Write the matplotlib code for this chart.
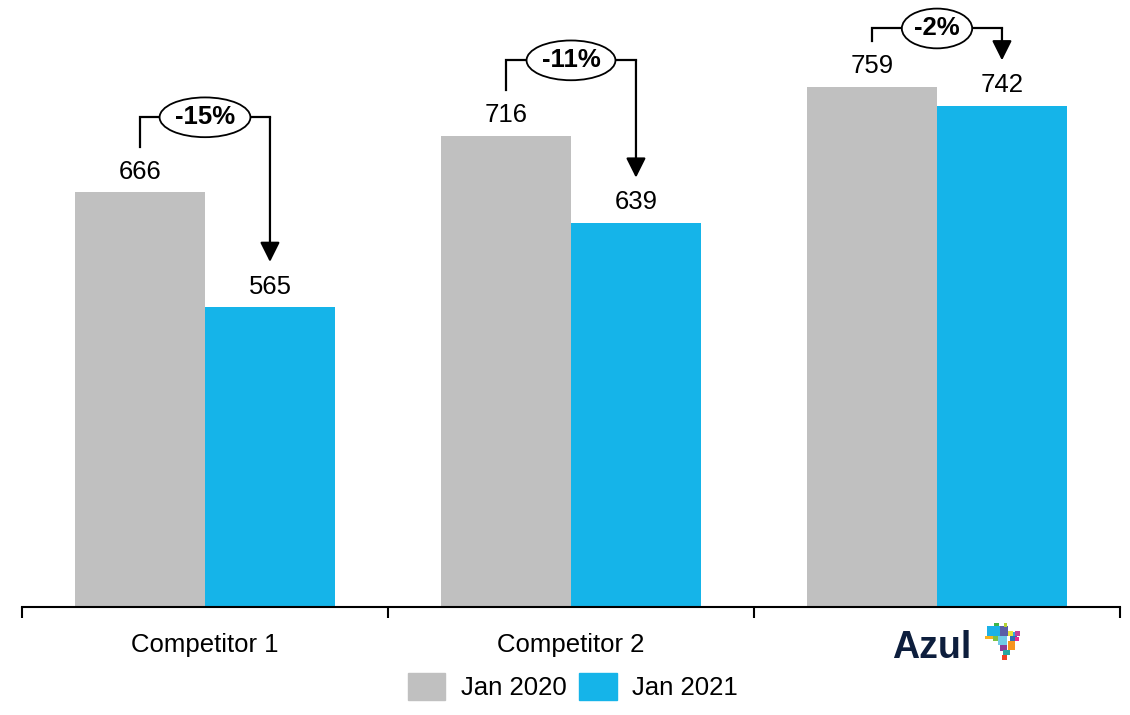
import matplotlib.pyplot as plt
from matplotlib.patches import Patch, Rectangle

plt.rcParams["font.family"] = ["Liberation Sans", "DejaVu Sans"]

categories = ["Competitor 1", "Competitor 2", "Azul"]
jan_2020 = [666, 716, 759]
jan_2021 = [565, 639, 742]
series_labels = ["Jan 2020", "Jan 2021"]

GREY = "#C0C0C0"
BLUE = "#15B4E9"
NAVY = "#0D1E3D"

fig = plt.figure(figsize=(11.3, 7.15), dpi=100)
ax = fig.add_axes([22 / 1130, 108 / 715, 1098 / 1130, 607 / 715])

w = 0.355
x = range(len(categories))
ax.bar([i - w / 2 for i in x], jan_2020, width=w, color=GREY, zorder=2)
ax.bar([i + w / 2 for i in x], jan_2021, width=w, color=BLUE, zorder=2)

ax.set_xlim(-0.5, len(categories) - 0.5)
ax.set_ylim(302, 835)

for i, (a, b) in enumerate(zip(jan_2020, jan_2021)):
    for xx, v in ((i - w / 2, a), (i + w / 2, b)):
        ax.annotate(f"{v}", (xx, v), xytext=(0, 10), textcoords="offset points",
                    ha="center", va="baseline", fontsize=18.5)

    # change bracket: up from the 2020 label, across, down to the 2021 label
    top = min(max(a, b) + 66, 810)
    ax.plot([i - w / 2, i - w / 2, i + w / 2], [a + 40, top, top],
            color="black", lw=1.6, solid_joinstyle="miter", zorder=3)
    ax.annotate("", xy=(i + w / 2, b + 40), xytext=(i + w / 2, top),
                arrowprops=dict(arrowstyle="-|>,head_length=0.6,head_width=0.3",
                                mutation_scale=20, lw=1.6, color="black",
                                shrinkA=0, shrinkB=0), zorder=3)
    pct = round((b - a) / a * 100)
    ax.text(i, top, f"{pct}%", ha="center", va="center", fontsize=18.5,
            fontweight="bold", zorder=4,
            bbox=dict(boxstyle="ellipse,pad=0.08", fc="white", ec="black", lw=1.3))

for side in ("top", "right", "left"):
    ax.spines[side].set_visible(False)
ax.spines["bottom"].set_linewidth(1.5)
ax.set_yticks([])
ax.set_xticks(list(x))
ax.set_xticklabels(categories[:2] + [""], fontsize=18.5)
ax.tick_params(axis="x", which="major", length=0, pad=19)
ax.set_xticks([i - 0.5 for i in range(len(categories) + 1)], minor=True)
ax.tick_params(axis="x", which="minor", length=8, width=1.5, direction="out")

# Azul logo: wordmark plus a mosaic of the Brazil map
fig.text(932 / 1130, 1 - 658 / 715, "Azul", ha="center", va="baseline",
         fontsize=27, fontweight="bold", color=NAVY)
logo = fig.add_axes([980 / 1130, 1 - 668 / 715, 50 / 1130, 50 / 715])
logo.set_xlim(980, 1030)
logo.set_ylim(668, 618)
logo.axis("off")
tiles = [
    (994, 623, 5, 5, "#3DB54A"), (987, 626, 13, 10, "#1BB1E7"),
    (1000, 626, 8, 10, "#5B5EA6"), (1004, 623, 3, 4, "#B5D334"),
    (985, 636, 8, 3, "#F6B221"), (993, 636, 5, 5, "#7DC242"),
    (998, 636, 9, 9, "#6FCBE8"), (1008, 631, 5, 5, "#E8E33A"),
    (1013, 632, 3, 4, "#33A6DD"), (1015, 631, 5, 5, "#C2409A"),
    (1000, 645, 7, 6, "#8E3C97"), (1008, 641, 7, 9, "#F7941E"),
    (1010, 636, 7, 5, "#2E6DB4"), (1003, 650, 7, 5, "#26A7A0"),
    (1002, 655, 5, 5, "#EF4123"), (1015, 637, 4, 4, "#E9268F"),
]
for tx, ty, tw, th, c in tiles:
    logo.add_patch(Rectangle((tx, ty), tw, th, color=c, lw=0))

handles = [Patch(color=GREY), Patch(color=BLUE)]
fig.legend(handles, series_labels, loc="lower center", ncol=2, frameon=False,
           fontsize=18.5, bbox_to_anchor=(0.507, -0.012), handlelength=1.45,
           handleheight=1.25, handletextpad=0.6, columnspacing=0.5)

fig.savefig("out.png", dpi=100)
